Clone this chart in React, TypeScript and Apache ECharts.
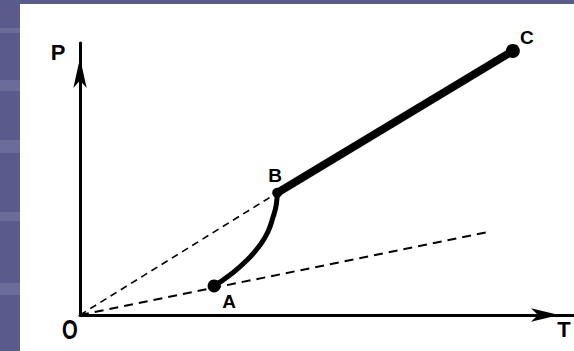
import React, { useEffect, useRef } from "react";
import * as echarts from "echarts";

// Points of the P–T diagram (T on x, P on y), arbitrary units
const pointNames = ["A", "B", "C"];
const pointT = [2.72, 4.0, 8.78];
const pointP = [1.07, 4.49, 9.71];
const pointSizes = [13, 10, 14];

// Curve A -> B
const curveT = [2.72, 3.04, 3.39, 3.65, 3.81, 3.91, 3.98, 4.0];
const curveP = [1.07, 1.47, 2.02, 2.57, 3.05, 3.57, 4.04, 4.49];

// Dashed rays from origin
const rayOB = [[0, 0], [4.0, 4.49]];
const rayOA = [[0, 0], [8.28, 3.05]];

const axisMaxT = 10;
const axisMaxP = 10;

// left-band lighter stripes (y ranges)
const stripes = [[28, 33], [80, 91], [140, 153], [212, 221], [283, 295]];

export default function App() {
  const ref = useRef<HTMLDivElement>(null);
  useEffect(() => {
    if (!ref.current) return;
    const chart = echarts.init(ref.current, null, { renderer: "svg" });
    const font = "Liberation Sans, Arial, sans-serif";
    const labelOffsets: Record<string, number[]> = {
      A: [15, 16],
      B: [-2, -17],
      C: [14, -13],
    };
    const option: any = {
      animation: false,
      backgroundColor: "#595b8c",
      grid: { left: 80, right: 1, top: 43, bottom: 36, outerBoundsMode: "none" },
      xAxis: {
        type: "value",
        min: 0,
        max: axisMaxT,
        axisLine: {
          show: true,
          onZero: false,
          symbol: ["none", "arrow"],
          symbolSize: [10, 28],
          symbolOffset: [0, -14],
          lineStyle: { color: "#000", width: 3 },
        },
        axisTick: { show: false },
        axisLabel: { show: false },
        splitLine: { show: false },
      },
      yAxis: {
        type: "value",
        min: 0,
        max: axisMaxP,
        axisLine: {
          show: true,
          onZero: false,
          symbol: ["none", "arrow"],
          symbolSize: [10, 30],
          symbolOffset: [0, -15],
          lineStyle: { color: "#000", width: 3 },
        },
        axisTick: { show: false },
        axisLabel: { show: false },
        splitLine: { show: false },
      },
      graphic: [
        { type: "rect", z: -10, shape: { x: 20, y: 4, width: 554, height: 347 }, style: { fill: "#ffffff" } },
        ...stripes.map((s) => ({
          type: "rect",
          z: -10,
          shape: { x: 0, y: s[0], width: 20, height: s[1] - s[0] },
          style: { fill: "#6b6c9a" },
        })),
        { type: "text", z: 10, x: 58, y: 52, style: { text: "P", fontSize: 22, fontWeight: "bold", fontFamily: font, fill: "#000", align: "center", verticalAlign: "middle" } },
        { type: "text", z: 10, x: 564, y: 329, style: { text: "T", fontSize: 22, fontWeight: "bold", fontFamily: font, fill: "#000", align: "center", verticalAlign: "middle" } },
        { type: "text", z: 10, x: 70, y: 329, scaleX: 0.75, style: { text: "O", fontSize: 27, fontWeight: "bold", fontFamily: font, fill: "#000", align: "center", verticalAlign: "middle" } },
      ],
      series: [
        {
          type: "line",
          data: rayOB,
          symbol: "none",
          clip: false,
          lineStyle: { color: "#000", width: 1.6, type: [7, 5] },
          z: 3,
        },
        {
          type: "line",
          data: rayOA,
          symbol: "none",
          clip: false,
          lineStyle: { color: "#000", width: 2, type: [9, 6] },
          z: 3,
        },
        {
          type: "line",
          data: curveT.map((t, i) => [t, curveP[i]]),
          smooth: true,
          symbol: "none",
          clip: false,
          lineStyle: { color: "#000", width: 5 },
          z: 4,
        },
        {
          type: "line",
          data: [
            [pointT[1], pointP[1]],
            [pointT[2], pointP[2]],
          ],
          symbol: "none",
          clip: false,
          lineStyle: { color: "#000", width: 8 },
          z: 4,
        },
        {
          type: "scatter",
          clip: false,
          z: 5,
          data: pointNames.map((n, i) => ({
            name: n,
            value: [pointT[i], pointP[i]],
            symbolSize: pointSizes[i],
            label: { offset: labelOffsets[n] },
          })),
          itemStyle: { color: "#000", opacity: 1 },
          label: {
            show: true,
            position: "inside",
            formatter: (p: any) => p.name,
            color: "#000",
            opacity: 1,
            fontSize: 19,
            fontWeight: "bold",
            fontFamily: font,
            textBorderWidth: 0,
          },
        },
      ],
    };
    chart.setOption(option);
    return () => chart.dispose();
  }, []);
  return (
    <div
      ref={ref}
      style={{ position: "fixed", left: 0, top: 0, width: 574, height: 351 }}
    />
  );
}
